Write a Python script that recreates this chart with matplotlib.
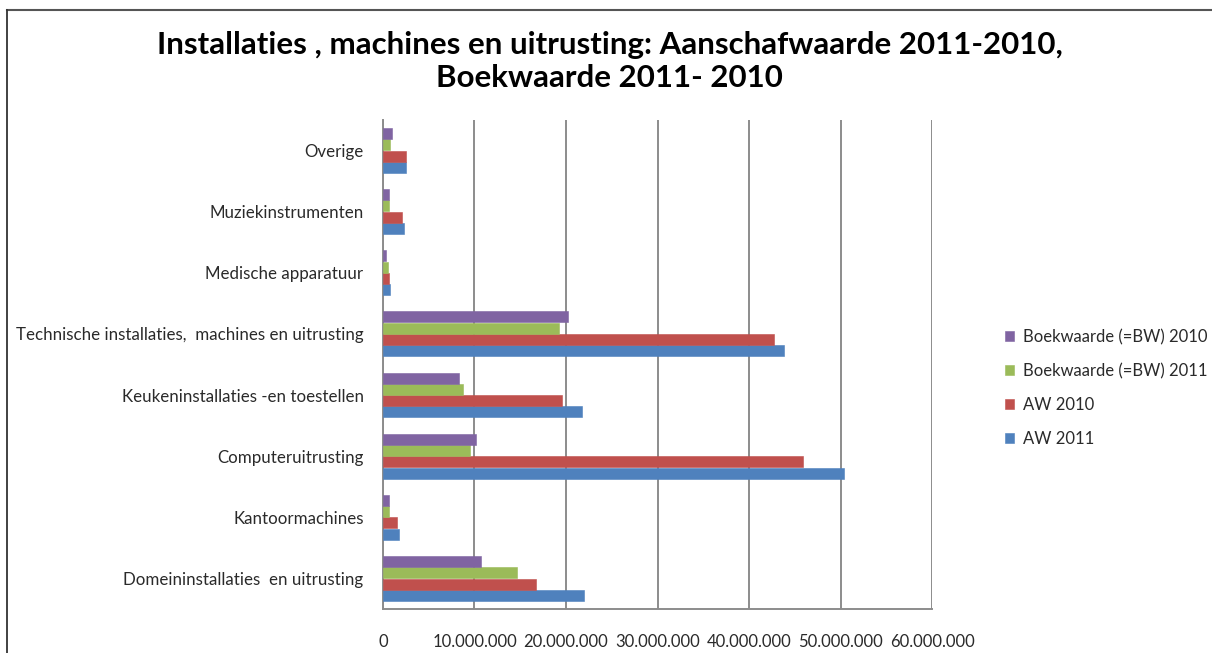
import matplotlib.pyplot as plt
import matplotlib.lines as mlines
from matplotlib import font_manager
from matplotlib.ticker import FuncFormatter
import numpy as np

# --- data (in euros) ---
categorieen = [
    "Domeininstallaties  en uitrusting",
    "Kantoormachines",
    "Computeruitrusting",
    "Keukeninstallaties -en toestellen",
    "Technische installaties,  machines en uitrusting",
    "Medische apparatuur",
    "Muziekinstrumenten",
    "Overige",
]
aw_2011 = [22.0e6, 1.75e6, 50.4e6, 21.8e6, 43.8e6, 0.82e6, 2.25e6, 2.47e6]
aw_2010 = [16.7e6, 1.5e6, 45.9e6, 19.6e6, 42.7e6, 0.65e6, 2.07e6, 2.47e6]
bw_2011 = [14.6e6, 0.65e6, 9.5e6, 8.7e6, 19.2e6, 0.5e6, 0.65e6, 0.8e6]
bw_2010 = [10.75e6, 0.65e6, 10.2e6, 8.3e6, 20.2e6, 0.35e6, 0.65e6, 0.97e6]
x_ticks = [0, 10e6, 20e6, 30e6, 40e6, 50e6, 60e6]

# --- style ---
def beschikbaar(naam):
    try:
        font_manager.findfont(naam, fallback_to_default=False)
        return True
    except Exception:
        return False

TEKST_FONT = "Lato" if beschikbaar("Lato") else "DejaVu Sans"

plt.rcParams.update({
    "font.family": TEKST_FONT,
    "font.size": 12,
    "text.color": "#2a2a2a",
    "xtick.color": "#2a2a2a",
    "ytick.color": "#2a2a2a",
})

series = [
    ("AW 2011", aw_2011, "#4F81BD"),
    ("AW 2010", aw_2010, "#C0504D"),
    ("Boekwaarde (=BW) 2011", bw_2011, "#9BBB59"),
    ("Boekwaarde (=BW) 2010", bw_2010, "#8064A2"),
]

fig = plt.figure(figsize=(12.12, 6.53), dpi=100)
ax = fig.add_axes([0.316, 0.0674, 0.453, 0.749])

y = np.arange(len(categorieen))
bar_h = 0.185
handles = []
for i, (naam, vals, kleur) in enumerate(series):
    off = (i - 1.5) * bar_h
    b = ax.barh(y + off, vals, height=bar_h * 0.97, color=kleur,
                edgecolor=kleur, linewidth=0.4, zorder=3, label=naam)
    handles.append(b)

ax.set_xlim(0, 60e6)
ax.set_ylim(-0.5, len(categorieen) - 0.5)
ax.set_xticks(x_ticks)
ax.xaxis.set_major_formatter(
    FuncFormatter(lambda v, p: "0" if v == 0 else f"{int(v):,}".replace(",", ".")))
ax.set_yticks(y)
ax.set_yticklabels(categorieen, fontsize=12.2)
ax.tick_params(axis="y", length=0, pad=14)
ax.tick_params(axis="x", length=0, pad=18, labelsize=12)

ax.grid(axis="x", color="#8c8c8c", linewidth=1.4, zorder=0)
ax.set_axisbelow(True)
for s in ["top", "right"]:
    ax.spines[s].set_visible(False)
ax.spines["left"].set_color("#8c8c8c")
ax.spines["left"].set_linewidth(1.4)
ax.spines["bottom"].set_color("#8c8c8c")
ax.spines["bottom"].set_linewidth(1.4)

fig.text(0.503, 0.906,
         "Installaties , machines en uitrusting: Aanschafwaarde 2011-2010,\nBoekwaarde 2011- 2010",
         ha="center", va="center", fontsize=22.5, fontweight="bold",
         color="black", linespacing=1.25)

# legend in reverse order, as Excel does
fig.legend(handles[::-1], [s[0] for s in series][::-1],
           loc="center left", bbox_to_anchor=(0.817, 0.406),
           frameon=False, fontsize=12, handlelength=0.55, handleheight=0.55,
           handletextpad=0.5, labelspacing=1.07)

# outer frame (top and left edge only visible)
fig.add_artist(mlines.Line2D([0.006, 1.0], [0.985, 0.985], color="#555555", linewidth=1.5))
fig.add_artist(mlines.Line2D([0.006, 0.006], [0.0, 0.985], color="#333333", linewidth=1.3))

fig.savefig("out.png", dpi=100)
